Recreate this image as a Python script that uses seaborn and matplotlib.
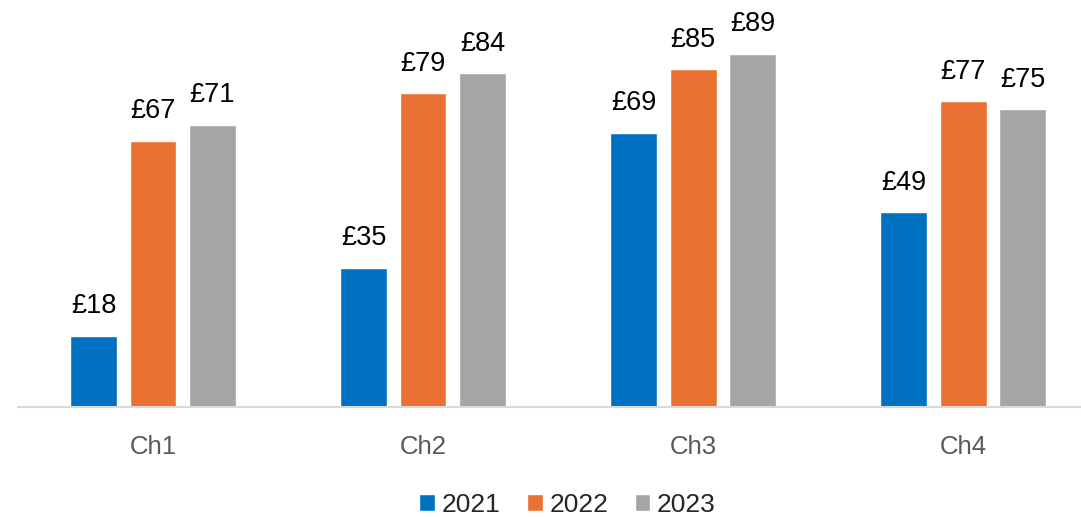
import pandas as pd
import matplotlib.pyplot as plt
import seaborn as sns

channels = ["Ch1", "Ch2", "Ch3", "Ch4"]
years = ["2021", "2022", "2023"]
values_2021 = [18, 35, 69, 49]
values_2022 = [67, 79, 85, 77]
values_2023 = [71, 84, 89, 75]

palette = ["#0070C0", "#E97132", "#A5A5A5"]


def build_frame():
    records = []
    for year, vals in zip(years, [values_2021, values_2022, values_2023]):
        for ch, v in zip(channels, vals):
            records.append({"channel": ch, "year": year, "value": v})
    return pd.DataFrame(records)


def plotting_function(df: pd.DataFrame):
    sns.set_style("white")
    plt.rcParams["font.family"] = ["Liberation Sans", "DejaVu Sans"]

    fig = plt.figure(figsize=(10.81, 5.17), dpi=100)
    ax = fig.add_axes([18 / 1081, 110 / 517, 1062 / 1081, 407 / 517])

    sns.barplot(
        data=df,
        x="channel",
        y="value",
        hue="year",
        palette=palette,
        width=0.66,
        gap=0.21,
        saturation=1,
        ax=ax,
    )

    # value labels above each bar
    for container in ax.containers:
        ax.bar_label(container, fmt="£{:.0f}", padding=12, fontsize=19.5, color="black")

    ax.set_ylim(0, 102.5)
    ax.set_xlim(-0.5, 3.433)
    ax.set_xlabel("")
    ax.set_ylabel("")
    ax.set_yticks([])
    for side in ["top", "right", "left"]:
        ax.spines[side].set_visible(False)
    ax.spines["bottom"].set_color("#D9D9D9")
    ax.spines["bottom"].set_linewidth(1.5)
    ax.tick_params(axis="x", length=0, pad=20, labelsize=18.5, labelcolor="#595959")

    ax.legend_.remove()
    handles, labels = ax.get_legend_handles_labels()
    fig.legend(
        handles,
        labels,
        loc="lower center",
        bbox_to_anchor=(0.525, -0.045),
        ncol=3,
        frameon=False,
        fontsize=19,
        handlelength=0.6,
        handleheight=0.6,
        handletextpad=0.25,
        columnspacing=1.0,
    )

    plt.savefig("out.png", dpi=100)


def main():
    df = build_frame()
    plotting_function(df)


if __name__ == "__main__":
    main()
